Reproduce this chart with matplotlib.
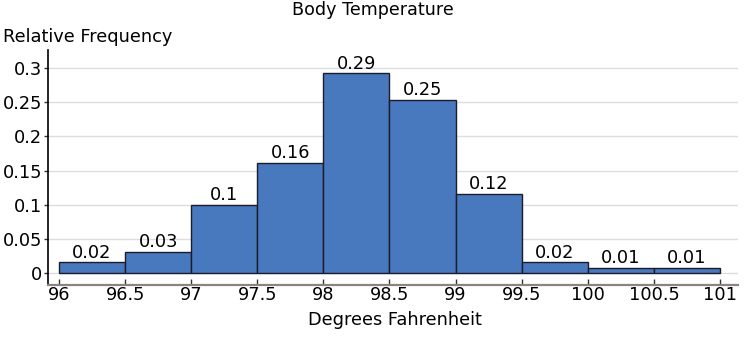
import numpy as np
import matplotlib
matplotlib.use("Agg")
import matplotlib.pyplot as plt

# bin edges and relative frequencies
bin_edges = [96, 96.5, 97, 97.5, 98, 98.5, 99, 99.5, 100, 100.5, 101]
rel_freq = [0.0154, 0.0308, 0.1, 0.1615, 0.2923, 0.2538, 0.1154, 0.0154, 0.0077, 0.0077]
bar_labels = ["0.02", "0.03", "0.1", "0.16", "0.29", "0.25", "0.12", "0.02", "0.01", "0.01"]
x_ticks = [96, 96.5, 97, 97.5, 98, 98.5, 99, 99.5, 100, 100.5, 101]
x_tick_labels = ["96", "96.5", "97", "97.5", "98", "98.5", "99", "99.5", "100", "100.5", "101"]
y_ticks = [0, 0.05, 0.1, 0.15, 0.2, 0.25, 0.3]
y_tick_labels = ["0", "0.05", "0.1", "0.15", "0.2", "0.25", "0.3"]

plt.rcParams["font.family"] = "DejaVu Sans"

fig = plt.figure(figsize=(7.46, 3.37), dpi=100)
ax = fig.add_axes([48 / 746, 1 - 285 / 337, 690 / 746, 235 / 337])

lefts = np.array(bin_edges[:-1])
widths = np.diff(bin_edges)
bars = ax.bar(lefts, rel_freq, width=widths, align="edge",
              color="#4878be", edgecolor="#1c1c2c", linewidth=1, zorder=3)

for b, lab in zip(bars, bar_labels):
    ax.text(b.get_x() + b.get_width() / 2, b.get_height() + 0.001, lab,
            ha="center", va="bottom", fontsize=12.8, color="black", zorder=4)

ax.set_xlim(95.917, 101.136)
ax.set_ylim(-0.0176, 0.3265)
ax.set_xticks(x_ticks)
ax.set_xticklabels(x_tick_labels, fontsize=12.8)
ax.set_yticks(y_ticks)
ax.set_yticklabels(y_tick_labels, fontsize=12.8)

ax.tick_params(axis="x", direction="in", length=4, width=1, color="#333333", pad=1)
ax.tick_params(axis="y", direction="out", length=3, width=1, color="#333333", pad=1)

ax.grid(axis="y", color="#dddddd", linewidth=1, zorder=0)
ax.set_axisbelow(True)

for s in ["top", "right"]:
    ax.spines[s].set_visible(False)
ax.spines["left"].set_color("black")
ax.spines["left"].set_linewidth(1.2)
ax.spines["bottom"].set_color("#8c8282")
ax.spines["bottom"].set_linewidth(1.6)

fig.text(373 / 746, 1 - 10 / 337, "Body Temperature", ha="center", va="center", fontsize=12.6)
fig.text(3 / 746, 1 - 37 / 337, "Relative Frequency", ha="left", va="center", fontsize=12.8)
fig.text(395 / 746, 1 - 320 / 337, "Degrees Fahrenheit", ha="center", va="center", fontsize=12.8)

fig.savefig("out.png", dpi=100)
